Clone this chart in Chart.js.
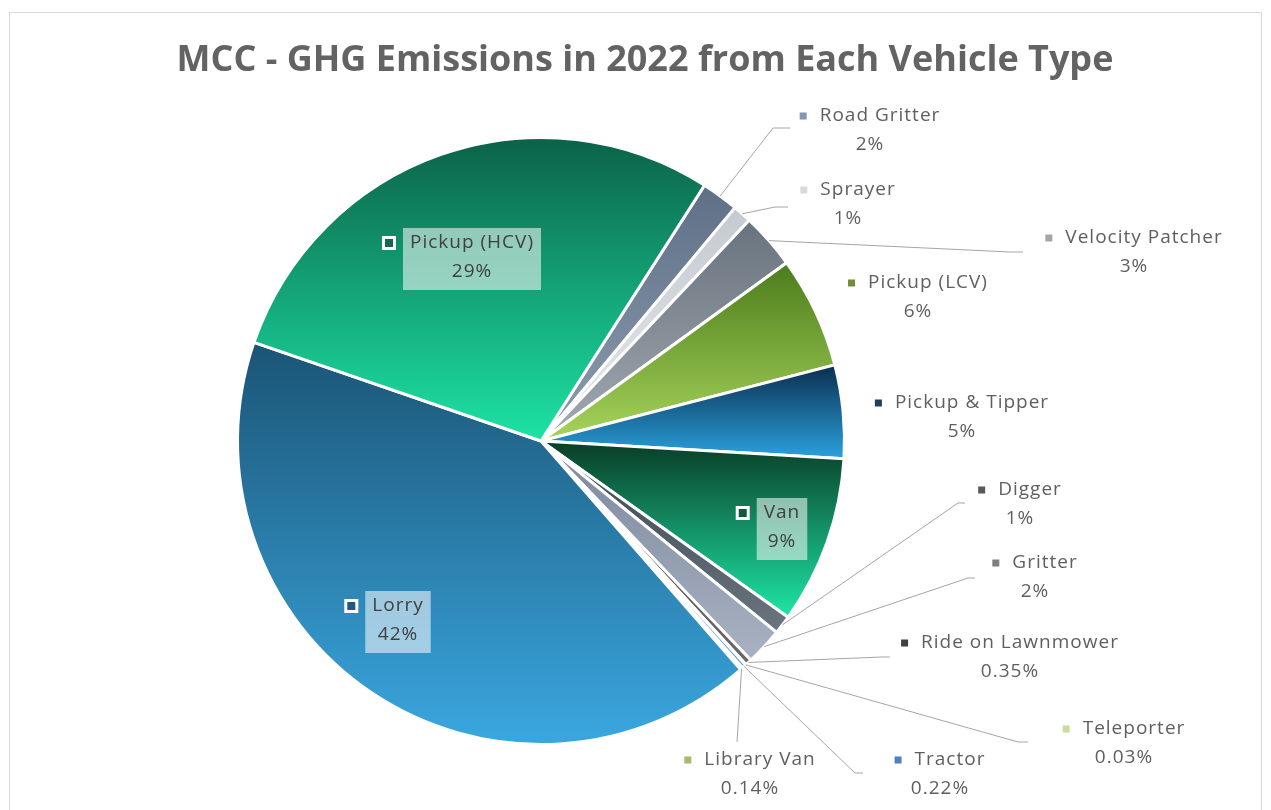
<!DOCTYPE html>
<html>
<head>
<meta charset="utf-8">
<title>MCC - GHG Emissions in 2022 from Each Vehicle Type</title>
<script src="https://cdn.jsdelivr.net/npm/chart.js@4.4.1/dist/chart.umd.min.js"></script>
<style>
    html, body { margin: 0; padding: 0; background: #fff; }
    #wrap { position: relative; width: 1271px; height: 810px; }
</style>
</head>
<body>
<div id="wrap"><canvas id="graphPie" width="1271" height="810"></canvas></div>
<script>
"use strict"

// vehicle types, clockwise from the top right edge of the pie
const vehicleTypes = ["Road Gritter", "Sprayer", "Velocity Patcher", "Pickup (LCV)", "Pickup & Tipper", "Van",
    "Digger", "Gritter", "Ride on Lawnmower", "Teleporter", "Tractor", "Library Van", "Lorry", "Pickup (HCV)"];
// share of the 2022 GHG emissions (%)
const emissionShares = [2, 1, 3, 6, 5, 9, 1, 2, 0.35, 0.03, 0.22, 0.14, 42, 29];

// slice colours, top and bottom of each slice's gradient
const fillTop = ["#5f7086", "#c4cad1", "#69737d", "#4c7c1c", "#0b2e4e", "#093c26", "#3c4650",
    "#7b879d", "#3f3f3f", "#b7cd88", "#2e6ca3", "#8a9848", "#1b5475", "#0b6248"];
const fillBottom = ["#8d9db1", "#e7eaed", "#a2aab2", "#a7d55b", "#2aa2de", "#1ee6a6", "#6a7580",
    "#a9b2c2", "#6b6b6b", "#dbe8b8", "#5b9bd5", "#b7c47a", "#3aa7e0", "#1de3a5"];
const markerColors = ["#8497b0", "#d9d9d9", "#a5a5a5", "#6f8f3c", "#1f3f60", "#0e5a3a", "#595959",
    "#7f7f7f", "#404040", "#c9dba0", "#4f81bd", "#a9b86a", "#1e5a80", "#0f6a4e"];

// where each data label goes: inside the slice (boxed) or outside with a leader line
const labelLayout = [
    { cx: 870, y: 116, elbow: [773, 128], tail: 790 },
    { cx: 848, y: 190, elbow: [775, 207], tail: 788 },
    { cx: 1134, y: 238, elbow: [1010, 252], tail: 1023 },
    { cx: 918, y: 283 },
    { cx: 962, y: 403 },
    { cx: 782, y: 513, inside: true },
    { cx: 1020, y: 490, elbow: [958, 503], tail: 965 },
    { cx: 1035, y: 563, elbow: [968, 578], tail: 975 },
    { cx: 1010, y: 643, elbow: [882, 657], tail: 890 },
    { cx: 1124, y: 729, elbow: [1018, 742], tail: 1028 },
    { cx: 940, y: 760, elbow: [855, 773], tail: 863 },
    { cx: 750, y: 760, elbow: [737, 742], tail: 737 },
    { cx: 398, y: 606, inside: true },
    { cx: 472, y: 243, inside: true }
];

const titleText = "MCC - GHG Emissions in 2022 from Each Vehicle Type";
const labelFont = "19px 'Open Sans'";
const lineGap = 29;

function fmtShare(v) {
    return v + "%";
}

// frame and title
const framePlugin = {
    id: "frame",
    beforeDraw(chart) {
        let ctx = chart.ctx;
        ctx.save();
        ctx.fillStyle = "#ffffff";
        ctx.fillRect(0, 0, chart.width, chart.height);
        ctx.strokeStyle = "#d9d9d9";
        ctx.lineWidth = 1;
        ctx.strokeRect(9.5, 12.5, 1252, 806);
        ctx.fillStyle = "#636363";
        ctx.font = "bold 36px 'Open Sans'";
        ctx.textAlign = "center";
        ctx.textBaseline = "middle";
        ctx.fillText(titleText, 645, 61);
        ctx.restore();
    }
};

// vertical gradient across each slice
const slicePaint = {
    id: "slicePaint",
    beforeDatasetsDraw(chart) {
        let ctx = chart.ctx;
        chart.getDatasetMeta(0).data.forEach(function (arc, i) {
            let p = arc.getProps(["x", "y", "startAngle", "endAngle", "outerRadius"], true);
            let top = p.y, bottom = p.y;
            for (let k = 0; k <= 60; k++) {
                let a = p.startAngle + (p.endAngle - p.startAngle) * k / 60;
                let y = p.y + p.outerRadius * Math.sin(a);
                top = Math.min(top, y);
                bottom = Math.max(bottom, y);
            }
            if (bottom - top < 1)
                bottom = top + 1;
            let grad = ctx.createLinearGradient(0, top, 0, bottom);
            grad.addColorStop(0, fillTop[i]);
            grad.addColorStop(1, fillBottom[i]);
            arc.options.backgroundColor = grad;
        });
    }
};

// data labels with markers, boxes and leader lines
const labelPlugin = {
    id: "sliceLabels",
    afterDatasetsDraw(chart) {
        let ctx = chart.ctx;
        let arcs = chart.getDatasetMeta(0).data;
        ctx.save();
        ctx.font = labelFont;
        ctx.letterSpacing = "1px";
        ctx.textBaseline = "middle";

        arcs.forEach(function (arc, i) {
            let lay = labelLayout[i];
            let name = vehicleTypes[i];
            let value = fmtShare(emissionShares[i]);
            let nameW = ctx.measureText(name).width;
            let valW = ctx.measureText(value).width;

            if (lay.inside) {
                let boxW = Math.max(nameW, valW) + 14;
                let left = lay.cx - boxW / 2;
                let top = lay.y - 15;
                let h = lineGap + 33;
                ctx.fillStyle = "rgba(255, 255, 255, 0.55)";
                ctx.fillRect(left, top, boxW, h);
                // marker with white outline
                ctx.fillStyle = "#ffffff";
                ctx.fillRect(left - 21, lay.y - 7, 14, 14);
                ctx.fillStyle = markerColors[i];
                ctx.fillRect(left - 18, lay.y - 4, 8, 8);
                ctx.fillStyle = "#404040";
                ctx.textAlign = "center";
                ctx.fillText(name, lay.cx, lay.y);
                ctx.fillText(value, lay.cx, lay.y + lineGap);
                return;
            }

            if (lay.elbow) {
                let p = arc.getProps(["x", "y", "startAngle", "endAngle", "outerRadius"], true);
                let mid = (p.startAngle + p.endAngle) / 2;
                let sx = p.x + p.outerRadius * Math.cos(mid);
                let sy = p.y + p.outerRadius * Math.sin(mid);
                ctx.strokeStyle = "#a6a6a6";
                ctx.lineWidth = 1;
                ctx.beginPath();
                ctx.moveTo(sx, sy);
                ctx.lineTo(lay.elbow[0], lay.elbow[1]);
                ctx.lineTo(lay.tail, lay.elbow[1]);
                ctx.stroke();
            }

            let blockW = 7 + 13 + nameW;
            let left = lay.cx - blockW / 2;
            ctx.fillStyle = markerColors[i];
            ctx.fillRect(left, lay.y - 3.5, 7, 7);
            ctx.fillStyle = "#5f5f5f";
            ctx.textAlign = "left";
            ctx.fillText(name, left + 20, lay.y);
            ctx.textAlign = "center";
            ctx.fillText(value, lay.cx, lay.y + lineGap);
        });
        ctx.restore();
    }
};

let chartPie = new Chart(document.getElementById("graphPie"), {
    type: "pie",
    data: {
        labels: vehicleTypes,
        datasets: [
            {
                label: "GHG emissions 2022",
                data: emissionShares,
                backgroundColor: function (context) { return fillBottom[context.dataIndex]; },
                borderColor: "#ffffff",
                borderWidth: 3,
                hoverOffset: 0
            }
        ]
    },
    options: {
        responsive: false,
        animation: false,
        events: [],
        rotation: 32.6,
        layout: {
            padding: { left: 236, right: 425, top: 136, bottom: 64 }
        },
        plugins: {
            legend: { display: false },
            tooltip: { enabled: false },
            title: { display: false }
        }
    },
    plugins: [framePlugin, slicePaint, labelPlugin]
});
</script>
</body>
</html>
